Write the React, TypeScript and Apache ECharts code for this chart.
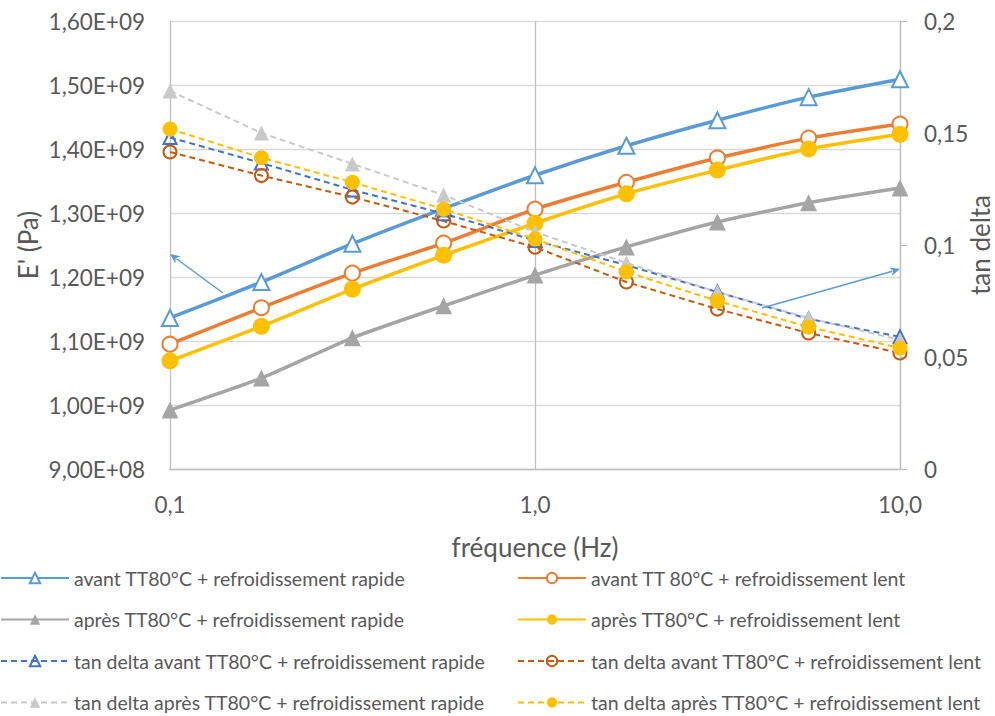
import React, { useEffect, useRef } from "react";
import * as echarts from "echarts";

const frequencies = [0.1, 0.178, 0.316, 0.562, 1.0, 1.78, 3.16, 5.62, 10.0];

const eAvantRapide = [1.136e9, 1.192e9, 1.252e9, 1.307e9, 1.359e9, 1.405e9, 1.445e9, 1.481e9, 1.509e9];
const eAvantLent = [1.095e9, 1.152e9, 1.206e9, 1.253e9, 1.306e9, 1.348e9, 1.386e9, 1.417e9, 1.439e9];
const eApresRapide = [0.992e9, 1.042e9, 1.105e9, 1.155e9, 1.203e9, 1.247e9, 1.286e9, 1.316e9, 1.339e9];
const eApresLent = [1.069e9, 1.123e9, 1.181e9, 1.234e9, 1.284e9, 1.33e9, 1.367e9, 1.4e9, 1.423e9];

const tdAvantRapide = [0.148, 0.1366, 0.1246, 0.114, 0.102, 0.091, 0.079, 0.067, 0.059];
const tdAvantLent = [0.1415, 0.131, 0.1214, 0.1107, 0.099, 0.0835, 0.0714, 0.0607, 0.0518];
const tdApresRapide = [0.1688, 0.15, 0.1362, 0.1223, 0.1058, 0.092, 0.079, 0.0674, 0.0576];
const tdApresLent = [0.1518, 0.139, 0.128, 0.116, 0.1027, 0.088, 0.075, 0.0634, 0.054];

const names = [
  "avant TT80°C + refroidissement rapide",
  "avant TT 80°C + refroidissement lent",
  "après TT80°C + refroidissement rapide",
  "après TT80°C + refroidissement lent",
  "tan delta avant TT80°C + refroidissement rapide",
  "tan delta avant TT80°C + refroidissement lent",
  "tan delta après TT80°C + refroidissement rapide",
  "tan delta après TT80°C + refroidissement lent",
];

const FONT = "Lato";
const TXT = "#595959";

function pairs(vals: number[]) {
  return frequencies.map((f, i) => [f, vals[i]]);
}

function arrow(x1: number, y1: number, x2: number, y2: number, color: string) {
  const dx = x2 - x1;
  const dy = y2 - y1;
  const len = Math.sqrt(dx * dx + dy * dy);
  const ux = dx / len;
  const uy = dy / len;
  const hl = 10;
  const hw = 4.5;
  const bx = x2 - ux * hl;
  const by = y2 - uy * hl;
  const px = -uy;
  const py = ux;
  return [
    {
      type: "line",
      shape: { x1, y1, x2: bx + ux * 2, y2: by + uy * 2 },
      style: { stroke: color, lineWidth: 1.5 },
      z: 100,
    },
    {
      type: "polygon",
      shape: {
        points: [
          [x2, y2],
          [bx + px * hw, by + py * hw],
          [bx + ux * 3, by + uy * 3],
          [bx - px * hw, by - py * hw],
        ],
      },
      style: { fill: color },
      z: 100,
    },
  ];
}

function sciFormat(v: number) {
  if (v === 0) return "0,00E+00";
  const exp = Math.floor(Math.log10(v) + 1e-9);
  const m = v / Math.pow(10, exp);
  const e = (exp < 10 ? "0" : "") + exp;
  return m.toFixed(2).replace(".", ",") + "E+" + e;
}

export default function App() {
  const ref = useRef<HTMLDivElement>(null);
  useEffect(() => {
    if (!ref.current) return;
    const chart = echarts.init(ref.current, undefined, { renderer: "svg" });

    const solid = (name: string, data: number[], color: string, symbol: string, filled: boolean, size: number) => ({
      name,
      type: "line",
      yAxisIndex: 0,
      data: pairs(data),
      symbol,
      symbolSize: size,
      showAllSymbol: true,
      smooth: 0.2,
      lineStyle: { color, width: 3.5 },
      itemStyle: filled
        ? { color, borderColor: color, borderWidth: 0 }
        : { color: "#ffffff", borderColor: color, borderWidth: 2 },
      z: 2,
    });
    const dashed = (name: string, data: number[], color: string, symbol: string, filled: boolean, size: number) => ({
      name,
      type: "line",
      yAxisIndex: 1,
      data: pairs(data),
      symbol,
      symbolSize: size,
      showAllSymbol: true,
      lineStyle: { color, width: 2, type: [6, 4] },
      itemStyle: filled
        ? { color, borderColor: color, borderWidth: 0 }
        : { color: "rgba(255,255,255,0)", borderColor: color, borderWidth: 2 },
      z: 3,
    });

    const legendCommon = {
      orient: "vertical",
      top: 568,
      itemWidth: 68,
      itemHeight: 13,
      itemGap: 21.5,
      textStyle: { fontFamily: FONT, fontSize: 19.5, color: TXT, lineHeight: 20 },
      padding: 0,
    };

    chart.setOption({
      animation: false,
      backgroundColor: "#ffffff",
      textStyle: { fontFamily: FONT },
      grid: { left: 170, right: 95, top: 21, bottom: 247, containLabel: false, outerBoundsMode: "none" },
      legend: [
        { ...legendCommon, left: 0, data: [names[0], names[2], names[4], names[6]] },
        { ...legendCommon, left: 517, data: [names[1], names[3], names[5], names[7]] },
      ],
      xAxis: {
        type: "log",
        logBase: 10,
        min: 0.1,
        max: 10,
        name: "fréquence (Hz)",
        nameLocation: "middle",
        nameGap: 65,
        nameMoveOverlap: false,
        nameTextStyle: { fontFamily: FONT, fontSize: 26, color: TXT },
        axisLine: { show: true, lineStyle: { color: "#BFBFBF", width: 1.3 } },
        axisTick: { show: false },
        axisLabel: {
          fontFamily: FONT,
          fontSize: 22.5,
          color: TXT,
          margin: 24,
          formatter: (v: number) => v.toFixed(1).replace(".", ","),
        },
        splitLine: { show: true, lineStyle: { color: "#BFBFBF", width: 1.3 } },
      },
      yAxis: [
        {
          type: "value",
          min: 9e8,
          max: 1.6e9,
          interval: 1e8,
          name: "E' (Pa)",
          nameLocation: "middle",
          nameGap: 129,
          nameMoveOverlap: false,
          nameRotate: 90,
          nameTextStyle: { fontFamily: FONT, fontSize: 26, color: TXT },
          axisLine: { show: false },
          axisTick: { show: false },
          axisLabel: {
            fontFamily: FONT,
            fontSize: 22.5,
            color: TXT,
            margin: 25,
            formatter: (v: number) => sciFormat(v),
          },
          splitLine: { show: true, lineStyle: { color: "#D9D9D9", width: 1.3 } },
        },
        {
          type: "value",
          min: 0,
          max: 0.2,
          interval: 0.05,
          name: "tan delta",
          nameLocation: "middle",
          nameGap: 67,
          nameMoveOverlap: false,
          nameRotate: 90,
          nameTextStyle: { fontFamily: FONT, fontSize: 26, color: TXT },
          axisLine: { show: true, lineStyle: { color: "#BFBFBF", width: 1.3 } },
          axisTick: { show: true, length: 7, lineStyle: { color: "#BFBFBF", width: 1.3 } },
          axisLabel: {
            fontFamily: FONT,
            fontSize: 22.5,
            color: TXT,
            margin: 24,
            formatter: (v: number) => (v === 0 ? "0" : String(parseFloat(v.toFixed(2))).replace(".", ",")),
          },
          splitLine: { show: false },
        },
      ],
      series: [
        solid(names[0], eAvantRapide, "#5B9BD5", "triangle", false, 16),
        solid(names[1], eAvantLent, "#ED7D31", "circle", false, 15),
        solid(names[2], eApresRapide, "#A5A5A5", "triangle", true, 17),
        solid(names[3], eApresLent, "#FFC000", "circle", true, 17),
        dashed(names[4], tdAvantRapide, "#4472C4", "triangle", false, 13),
        dashed(names[5], tdAvantLent, "#C55A11", "circle", false, 13),
        dashed(names[6], tdApresRapide, "#C9C9C9", "triangle", true, 15),
        dashed(names[7], tdApresLent, "#FFC000", "circle", true, 15),
      ],
      graphic: [
        ...arrow(223, 293, 170, 254, "#5B9BD5"),
        ...arrow(762, 308, 900, 269, "#5B9BD5"),
      ],
    });
    return () => chart.dispose();
  }, []);
  return <div ref={ref} style={{ position: "absolute", left: 0, top: 0, width: 995, height: 716 }} />;
}
